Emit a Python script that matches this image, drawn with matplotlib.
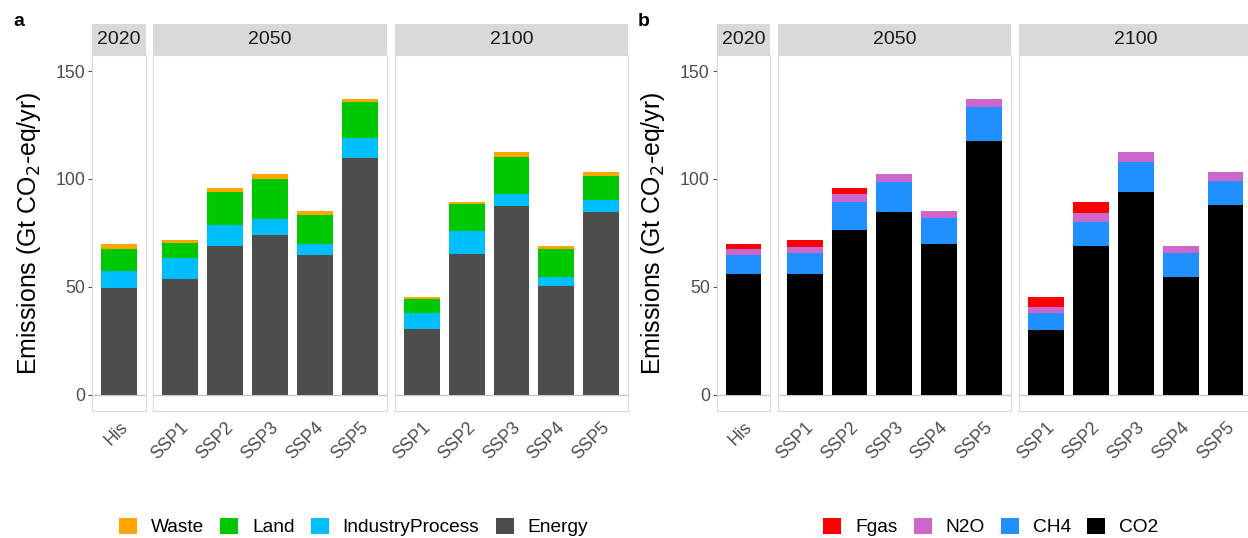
import matplotlib.pyplot as plt
from matplotlib.patches import Patch

plt.rcParams['font.family'] = ['Liberation Sans', 'DejaVu Sans']

# facets and their x categories
years = ['2020', '2050', '2100']
facet_labels = [['His'],
                ['SSP1', 'SSP2', 'SSP3', 'SSP4', 'SSP5'],
                ['SSP1', 'SSP2', 'SSP3', 'SSP4', 'SSP5']]

# panel a: by sector (His, 2050 SSP1-5, 2100 SSP1-5), Gt CO2-eq/yr
energy   = [49.6, 53.8, 68.8, 74.1, 64.8, 109.5, 30.6, 65.4, 87.5, 50.4, 84.6]
industry = [7.6, 9.6, 9.9, 7.1, 5.2, 9.4, 7.4, 10.5, 5.6, 4.0, 5.5]
land     = [10.5, 6.8, 15.1, 19.0, 13.5, 16.7, 6.2, 12.4, 17.1, 12.9, 11.2]
waste    = [1.9, 1.7, 1.9, 2.3, 1.7, 1.7, 1.1, 1.1, 2.2, 1.7, 1.8]

# panel b: by gas
co2  = [55.7, 55.7, 76.5, 84.6, 69.6, 117.5, 30.1, 68.9, 93.8, 54.4, 88.0]
ch4  = [9.1, 10.0, 12.9, 13.9, 12.3, 15.8, 7.8, 11.0, 14.0, 11.3, 10.9]
n2o  = [2.5, 2.6, 3.4, 4.0, 3.3, 4.0, 2.6, 4.4, 4.6, 3.3, 4.2]
fgas = [2.3, 3.6, 2.9, 0.0, 0.0, 0.0, 4.8, 5.1, 0.0, 0.0, 0.0]

yticks = [0, 50, 100, 150]

panels = [
    {'tag': 'a', 'x0': 0,
     'series': [('Energy', energy, '#4D4D4D'), ('IndustryProcess', industry, '#00BFFF'),
                ('Land', land, '#00C800'), ('Waste', waste, '#FFA500')],
     'legend_x': 353.5},
    {'tag': 'b', 'x0': 624.4,
     'series': [('CO2', co2, '#000000'), ('CH4', ch4, '#1E90FF'),
                ('N2O', n2o, '#CC66CC'), ('Fgas', fgas, '#FF0000')],
     'legend_x': 991},
]

W, H = 1248, 538
fig = plt.figure(figsize=(W / 100, H / 100), dpi=100)

def px_axes(x0, x1, y0, y1):
    return fig.add_axes([x0 / W, 1 - y1 / H, (x1 - x0) / W, (y1 - y0) / H])

facet_x = [(92.3, 146.0), (153.3, 386.7), (395.0, 628.0)]
top, bottom = 55.0, 410.7
strip_top = 24.0
border = '#D9D9D9'
tickgrey = '#4D4D4D'

for p in panels:
    start = 0
    for k, (year, cats) in enumerate(zip(years, facet_labels)):
        n = len(cats)
        xa, xb = facet_x[k][0] + p['x0'], facet_x[k][1] + p['x0']
        ax = px_axes(xa, xb, top, bottom)
        base = [0.0] * n
        for name, vals, col in p['series']:
            v = vals[start:start + n]
            ax.bar(range(n), v, bottom=base, width=0.8, color=col, linewidth=0)
            base = [b + x for b, x in zip(base, v)]
        ax.axhline(0, color='#C8C8C8', lw=1.0, zorder=0.5)
        ax.set_xlim(-0.6, n - 0.4)
        ax.set_ylim(-7.5, 157.5)
        ax.set_xticks(range(n))
        ax.set_xticklabels(cats, rotation=45, ha='right', va='top',
                           rotation_mode='anchor', fontsize=12.7, color=tickgrey)
        ax.tick_params(axis='x', length=0, pad=6)
        if k == 0:
            ax.set_yticks(yticks)
            ax.set_yticklabels([str(t) for t in yticks], fontsize=12.7, color=tickgrey)
            ax.tick_params(axis='y', length=3, width=0.8, color=tickgrey, pad=2)
        else:
            ax.set_yticks([])
        for s in ax.spines.values():
            s.set_color(border)
            s.set_linewidth(0.8)

        sx = px_axes(xa, xb, strip_top, top)
        sx.set_facecolor('#D9D9D9')
        sx.set_xticks([])
        sx.set_yticks([])
        for s in sx.spines.values():
            s.set_visible(False)
        sx.text(0.5, 0.5, year, ha='center', va='center', fontsize=14,
                color='#1A1A1A', transform=sx.transAxes)
        start += n

    fig.text((29 + p['x0']) / W, 1 - 233 / H, 'Emissions (Gt CO$_2$-eq/yr)',
             rotation=90, ha='center', va='center', fontsize=17.9)
    fig.text((13 + p['x0']) / W, 1 - 22 / H, p['tag'], ha='left', va='center',
             fontsize=14, fontweight='bold')

    handles = [Patch(facecolor=col, edgecolor='none') for name, vals, col in reversed(p['series'])]
    names = [name for name, vals, col in reversed(p['series'])]
    fig.legend(handles, names, loc='center', bbox_to_anchor=(p['legend_x'] / W, 1 - 527 / H),
               ncol=4, frameon=False, fontsize=13.8, handlelength=0.94, handleheight=0.94,
               handletextpad=0.73, columnspacing=0.84, borderpad=0, borderaxespad=0)

fig.savefig('out.png', dpi=100)
